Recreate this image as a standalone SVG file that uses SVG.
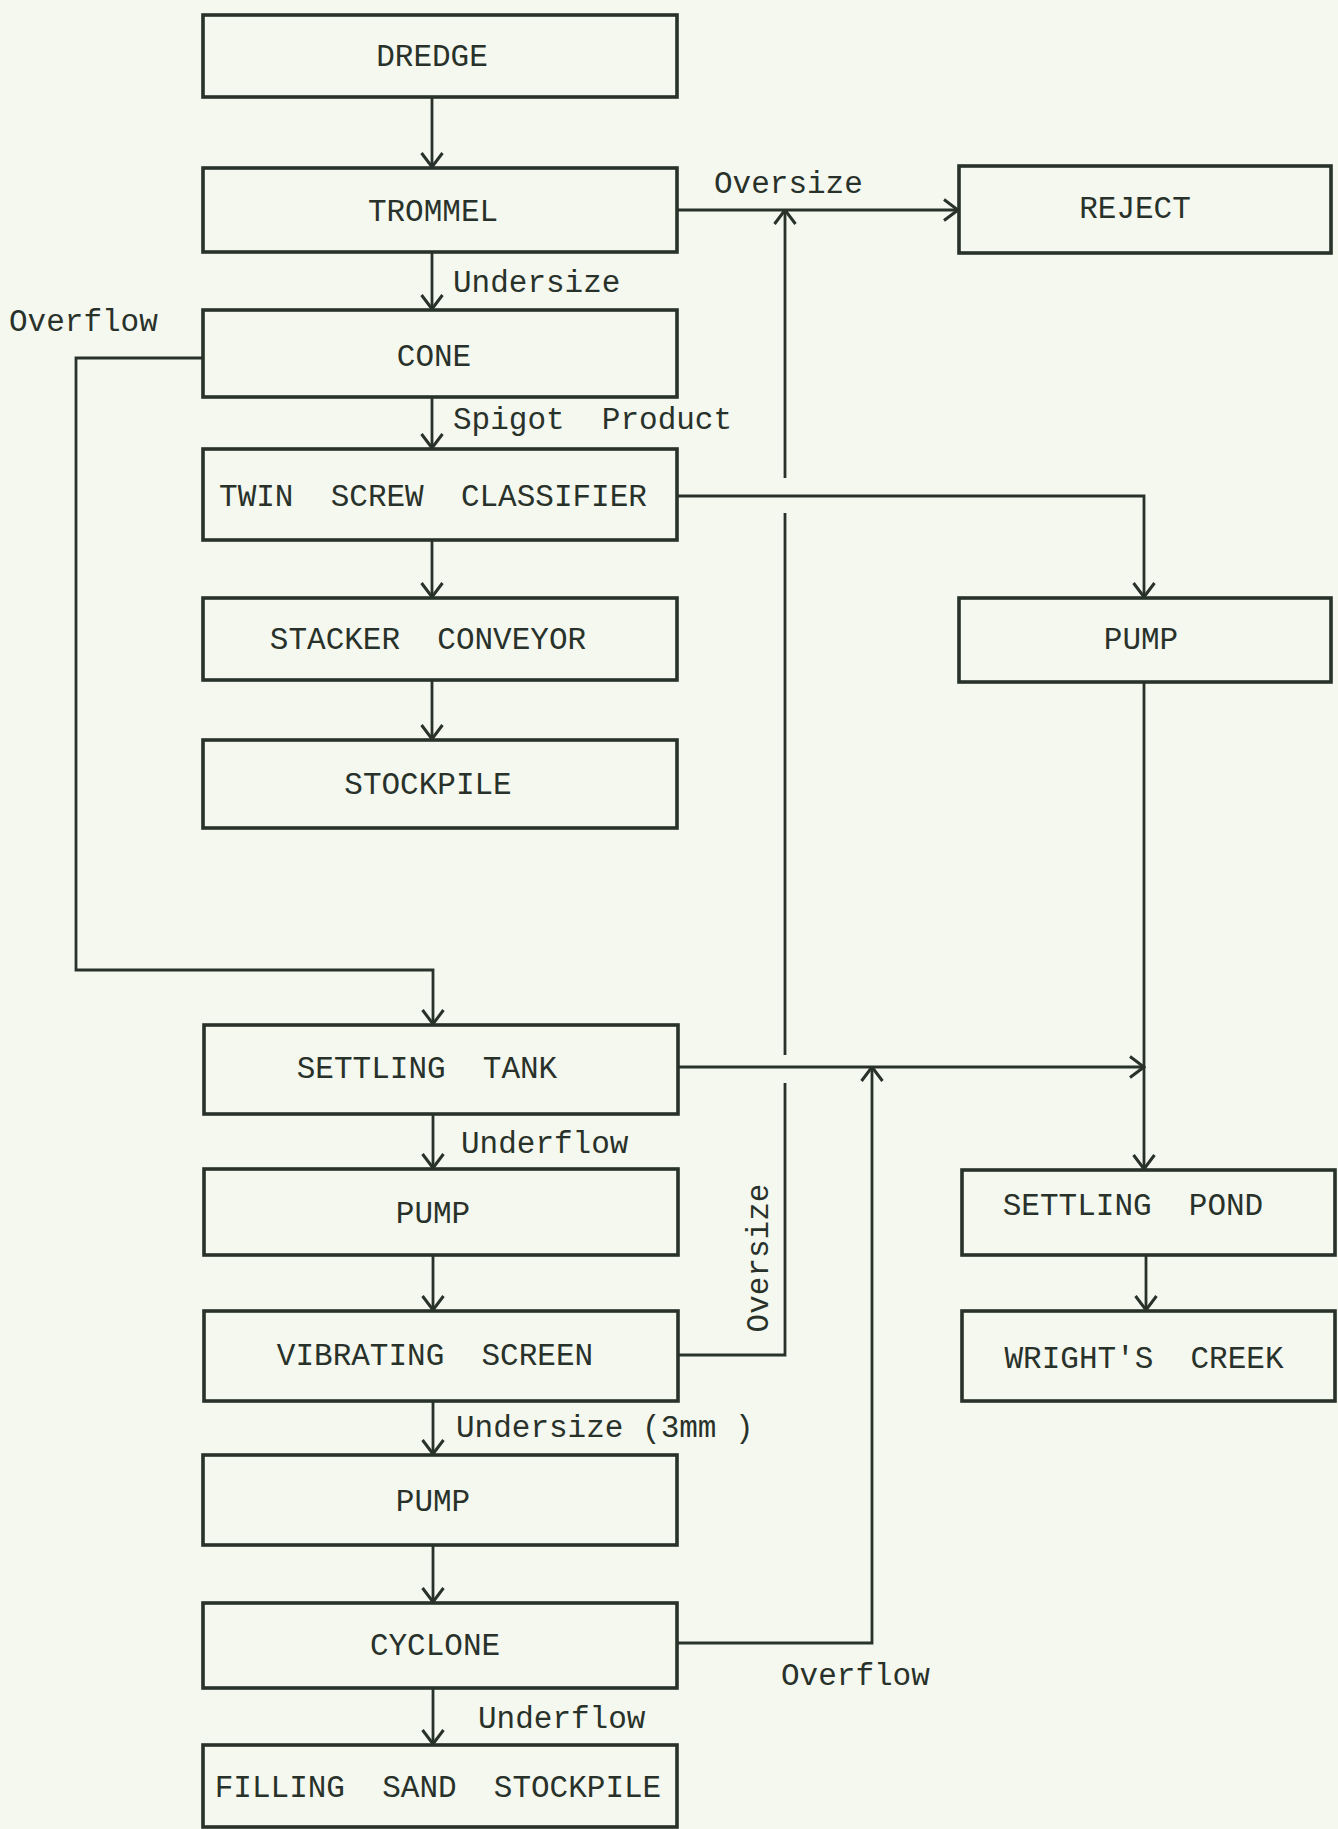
<svg xmlns="http://www.w3.org/2000/svg" width="1338" height="1829" viewBox="0 0 1338 1829">
<style>
  .box { fill: none; stroke: #29322a; stroke-width: 3.6; }
  .lbl { font-family: "Liberation Mono", "Courier New", monospace; font-size: 31px; fill: #29322a; }
  .mid { text-anchor: middle; }
  .ln { fill: none; stroke: #29322a; stroke-width: 2.8; }
</style>
<defs>
  <marker id="ah" viewBox="0 0 17 24" refX="15.5" refY="12" markerWidth="17" markerHeight="24" markerUnits="userSpaceOnUse" orient="auto">
    <path d="M1.5,1.5 L15.5,12 L1.5,22.5" fill="none" stroke="#29322a" stroke-width="3"/>
  </marker>
</defs>
<rect x="0" y="0" width="1338" height="1829" fill="#f4f8ef"/>

<g id="connectors">
  <line class="ln" x1="432" y1="97" x2="432" y2="167" marker-end="url(#ah)"/>
  <line class="ln" x1="432" y1="252" x2="432" y2="309" marker-end="url(#ah)"/>
  <line class="ln" x1="677" y1="210" x2="958" y2="210" marker-end="url(#ah)"/>
  <line class="ln" x1="432" y1="397" x2="432" y2="448" marker-end="url(#ah)"/>
  <polyline class="ln" points="204,358 76,358 76,970 433,970 433,1024" marker-end="url(#ah)"/>
  <line class="ln" x1="432" y1="540" x2="432" y2="597" marker-end="url(#ah)"/>
  <line class="ln" x1="432" y1="680" x2="432" y2="739" marker-end="url(#ah)"/>
  <polyline class="ln" points="677,496 1144,496 1144,597" marker-end="url(#ah)"/>
  <line class="ln" x1="1144" y1="682" x2="1144" y2="1169" marker-end="url(#ah)"/>
  <line class="ln" x1="678" y1="1067" x2="1144" y2="1067" marker-end="url(#ah)"/>
  <line class="ln" x1="433" y1="1114" x2="433" y2="1168" marker-end="url(#ah)"/>
  <line class="ln" x1="433" y1="1255" x2="433" y2="1310" marker-end="url(#ah)"/>
  <polyline class="ln" points="678,1355 785,1355 785,1083"/>
  <line class="ln" x1="785" y1="1055" x2="785" y2="513"/>
  <line class="ln" x1="785" y1="478" x2="785" y2="210" marker-end="url(#ah)"/>
  <line class="ln" x1="433" y1="1401" x2="433" y2="1454" marker-end="url(#ah)"/>
  <line class="ln" x1="433" y1="1545" x2="433" y2="1602" marker-end="url(#ah)"/>
  <polyline class="ln" points="677,1643 872,1643 872,1067" marker-end="url(#ah)"/>
  <line class="ln" x1="433" y1="1688" x2="433" y2="1744" marker-end="url(#ah)"/>
  <line class="ln" x1="1146" y1="1255" x2="1146" y2="1310" marker-end="url(#ah)"/>
</g>

<g id="labels">
  <text class="lbl" x="453" y="292">Undersize</text>
  <text class="lbl" x="714" y="193">Oversize</text>
  <text class="lbl" x="9" y="331">Overflow</text>
  <text class="lbl" x="453" y="429" xml:space="preserve">Spigot  Product</text>
  <text class="lbl" x="461" y="1153">Underflow</text>
  <text class="lbl mid" transform="translate(768,1258) rotate(-90)">Oversize</text>
  <text class="lbl" x="456" y="1437" xml:space="preserve">Undersize (3mm )</text>
  <text class="lbl" x="781" y="1685">Overflow</text>
  <text class="lbl" x="478" y="1728">Underflow</text>
</g>

<g id="dredge"><rect class="box" x="203" y="15" width="474" height="82"/><text class="lbl mid" x="432" y="66">DREDGE</text></g>
<g id="trommel"><rect class="box" x="203" y="168" width="474" height="84"/><text class="lbl mid" x="433" y="221">TROMMEL</text></g>
<g id="cone"><rect class="box" x="203" y="310" width="474" height="87"/><text class="lbl mid" x="434" y="366">CONE</text></g>
<g id="twin-screw-classifier"><rect class="box" x="203" y="449" width="474" height="91"/><text class="lbl mid" x="433" y="506" xml:space="preserve">TWIN  SCREW  CLASSIFIER</text></g>
<g id="stacker-conveyor"><rect class="box" x="203" y="598" width="474" height="82"/><text class="lbl mid" x="428" y="649" xml:space="preserve">STACKER  CONVEYOR</text></g>
<g id="stockpile"><rect class="box" x="203" y="740" width="474" height="88"/><text class="lbl mid" x="428" y="794">STOCKPILE</text></g>
<g id="settling-tank"><rect class="box" x="204" y="1025" width="474" height="89"/><text class="lbl mid" x="427" y="1078" xml:space="preserve">SETTLING  TANK</text></g>
<g id="pump-1"><rect class="box" x="204" y="1169" width="474" height="86"/><text class="lbl mid" x="433" y="1223">PUMP</text></g>
<g id="vibrating-screen"><rect class="box" x="204" y="1311" width="474" height="90"/><text class="lbl mid" x="435" y="1365" xml:space="preserve">VIBRATING  SCREEN</text></g>
<g id="pump-2"><rect class="box" x="203" y="1455" width="474" height="90"/><text class="lbl mid" x="433" y="1511">PUMP</text></g>
<g id="cyclone"><rect class="box" x="203" y="1603" width="474" height="85"/><text class="lbl mid" x="435" y="1655">CYCLONE</text></g>
<g id="filling-sand-stockpile"><rect class="box" x="203" y="1745" width="474" height="82"/><text class="lbl mid" x="438" y="1797" xml:space="preserve">FILLING  SAND  STOCKPILE</text></g>
<g id="reject"><rect class="box" x="959" y="166" width="372" height="87"/><text class="lbl mid" x="1135" y="218">REJECT</text></g>
<g id="pump-right"><rect class="box" x="959" y="598" width="372" height="84"/><text class="lbl mid" x="1141" y="649">PUMP</text></g>
<g id="settling-pond"><rect class="box" x="962" y="1170" width="373" height="85"/><text class="lbl mid" x="1133" y="1215" xml:space="preserve">SETTLING  POND</text></g>
<g id="wrights-creek"><rect class="box" x="962" y="1311" width="373" height="90"/><text class="lbl mid" x="1144" y="1368" xml:space="preserve">WRIGHT'S  CREEK</text></g>
</svg>
